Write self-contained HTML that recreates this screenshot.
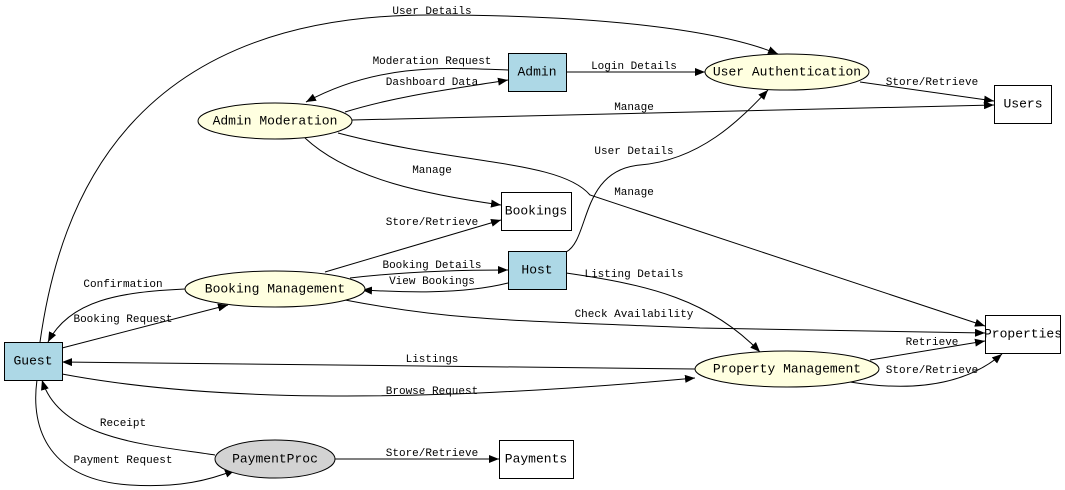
<!DOCTYPE html>
<html><head><meta charset="utf-8"><style>
html,body{margin:0;padding:0;background:#fff;width:1065px;height:490px;overflow:hidden}
svg{display:block}
.n{font-family:"Liberation Mono","DejaVu Sans Mono",monospace;font-size:13px;text-anchor:middle;dominant-baseline:central}
.l{font-family:"Liberation Mono","DejaVu Sans Mono",monospace;font-size:11px;text-anchor:middle}
path{fill:none;stroke:#000;stroke-width:1;marker-end:url(#a)}
</style></head><body>
<svg width="1065" height="490" viewBox="0 0 1065 490">
<defs><marker id="a" markerWidth="10" markerHeight="8" refX="10" refY="4" orient="auto" markerUnits="userSpaceOnUse"><polygon points="0,0 10,4 0,8" fill="#000"/></marker></defs>
<!-- edges -->
<path d="M40,342 C60,200 130,15 430,15 C600,15 720,30 778,54"/>
<path d="M508,70 C450,68 380,62 306,102"/>
<path d="M345,112 C400,95 460,88 508,80"/>
<path d="M566,72 L705,72"/>
<path d="M860,82 L994,101"/>
<path d="M352,120 L994,105"/>
<path d="M305,138 C350,180 430,195 501,205"/>
<path d="M338,133 C460,165 560,160 590,195 L985,326"/>
<path d="M325,272 L501,220"/>
<path d="M350,278 C400,272 460,270 508,270"/>
<path d="M508,283 C460,295 400,292 362,290"/>
<path d="M566,252 C590,240 580,170 640,165 C700,160 740,120 768,90"/>
<path d="M566,273 C650,285 710,300 760,352"/>
<path d="M345,300 C450,320 500,320 700,328 L985,333"/>
<path d="M185,289 C120,292 70,300 48,342"/>
<path d="M62,348 L228,305"/>
<path d="M695,369 L62,362"/>
<path d="M62,374 C200,400 400,405 695,378"/>
<path d="M870,360 L985,341"/>
<path d="M850,382 C900,390 960,390 1002,354"/>
<path d="M215,455 C150,445 60,440 42,380"/>
<path d="M37,380 C30,430 50,480 130,485 C180,488 210,480 235,470"/>
<path d="M335,459 L499,459"/>
<!-- labels -->
<g class="l">
<text x="432" y="14">User Details</text>
<text x="432" y="64">Moderation Request</text>
<text x="432" y="85">Dashboard Data</text>
<text x="634" y="69">Login Details</text>
<text x="932" y="85">Store/Retrieve</text>
<text x="634" y="110">Manage</text>
<text x="432" y="173">Manage</text>
<text x="634" y="195">Manage</text>
<text x="634" y="154">User Details</text>
<text x="432" y="225">Store/Retrieve</text>
<text x="432" y="268">Booking Details</text>
<text x="432" y="284">View Bookings</text>
<text x="634" y="277">Listing Details</text>
<text x="634" y="317">Check Availability</text>
<text x="123" y="287">Confirmation</text>
<text x="123" y="322">Booking Request</text>
<text x="432" y="362">Listings</text>
<text x="432" y="394">Browse Request</text>
<text x="932" y="345">Retrieve</text>
<text x="932" y="373">Store/Retrieve</text>
<text x="123" y="426">Receipt</text>
<text x="123" y="463">Payment Request</text>
<text x="432" y="456">Store/Retrieve</text>
</g>
<!-- nodes -->
<g stroke="#000" stroke-width="1">
<rect x="4.5" y="342.5" width="58" height="38" fill="#add8e6"/>
<rect x="508.5" y="53.5" width="58" height="38" fill="#add8e6"/>
<rect x="508.5" y="251.5" width="58" height="38" fill="#add8e6"/>
<rect x="994.5" y="85.5" width="57" height="38" fill="#fff"/>
<rect x="501.5" y="192.5" width="70" height="38" fill="#fff"/>
<rect x="985.5" y="315.5" width="75" height="38" fill="#fff"/>
<rect x="499.5" y="440.5" width="74" height="38" fill="#fff"/>
<ellipse cx="787" cy="72" rx="82" ry="18" fill="#ffffe0"/>
<ellipse cx="275" cy="121" rx="77" ry="18" fill="#ffffe0"/>
<ellipse cx="275" cy="289" rx="90" ry="18" fill="#ffffe0"/>
<ellipse cx="787" cy="369" rx="92" ry="18" fill="#ffffe0"/>
<ellipse cx="275" cy="459" rx="60" ry="19" fill="#d3d3d3"/>
</g>
<g class="n">
<text x="33" y="361">Guest</text>
<text x="537" y="72">Admin</text>
<text x="537" y="270">Host</text>
<text x="1023" y="104">Users</text>
<text x="536" y="211">Bookings</text>
<text x="1023" y="334">Properties</text>
<text x="536" y="459">Payments</text>
<text x="787" y="72">User Authentication</text>
<text x="275" y="121">Admin Moderation</text>
<text x="275" y="289">Booking Management</text>
<text x="787" y="369">Property Management</text>
<text x="275" y="459">PaymentProc</text>
</g>
</svg>
</body></html>
